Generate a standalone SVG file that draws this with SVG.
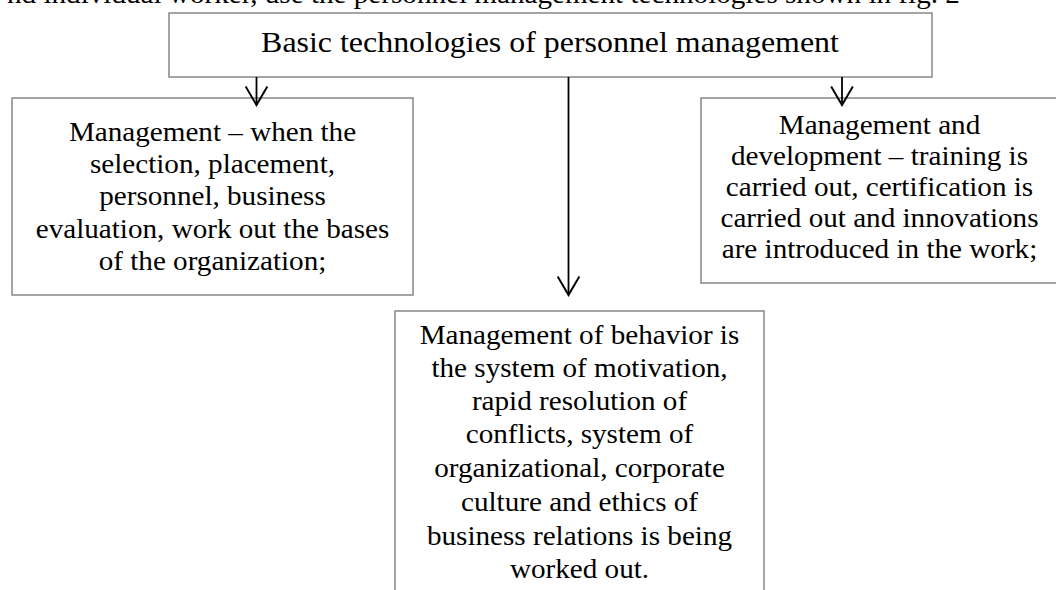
<svg xmlns="http://www.w3.org/2000/svg" width="1056" height="590" viewBox="0 0 1056 590">
<style>
.box{fill:#fff;stroke:#7f7f7f;stroke-width:1.4}
.t{font-family:"Liberation Serif","Times New Roman",serif;font-size:26.5px;fill:#000;text-anchor:middle}
.tt{font-family:"Liberation Serif","Times New Roman",serif;font-size:28.5px;fill:#000;text-anchor:middle}
.cap{font-family:"Liberation Serif","Times New Roman",serif;font-size:26.5px;fill:#000}
.ln{stroke:#000;stroke-width:1.8;fill:none}
</style>
<defs>
<marker id="arr" markerUnits="userSpaceOnUse" markerWidth="24" markerHeight="26" viewBox="-2 -2 22 24" refX="17" refY="10" orient="auto">
<path d="M0,0 L17,10 L0,20" fill="none" stroke="#000" stroke-width="1.8"/>
</marker>
</defs>
<rect width="1056" height="590" fill="#fff"/>
<g id="caption" transform="translate(7,0) scale(1.1,1)">
<text class="cap" x="0" y="3">nd individual worker, use the personnel management technologies shown in fig. 2</text>
</g>
<g id="node-top">
<rect class="box" x="169" y="13" width="763" height="64"/>
<g transform="translate(550,0) scale(1.12,1)">
<text class="tt" x="0" y="52">Basic technologies of personnel management</text>
</g>
</g>
<g id="node-left">
<rect class="box" x="12" y="98" width="401" height="197"/>
<g transform="translate(212.5,0) scale(1.1,1)">
<text class="t" x="0"><tspan x="0" y="141">Management – when the</tspan><tspan x="0" y="173">selection, placement,</tspan><tspan x="0" y="205">personnel, business</tspan><tspan x="0" y="238">evaluation, work out the bases</tspan><tspan x="0" y="270">of the organization;</tspan></text>
</g>
</g>
<g id="node-right">
<rect class="box" x="701" y="98" width="357" height="185"/>
<g transform="translate(879.5,0) scale(1.1,1)">
<text class="t" x="0"><tspan x="0" y="134">Management and</tspan><tspan x="0" y="165">development – training is</tspan><tspan x="0" y="196">carried out, certification is</tspan><tspan x="0" y="227">carried out and innovations</tspan><tspan x="0" y="258">are introduced in the work;</tspan></text>
</g>
</g>
<g id="node-bottom">
<rect class="box" x="395" y="311" width="369" height="300"/>
<g transform="translate(579.5,0) scale(1.1,1)">
<text class="t" x="0"><tspan x="0" y="344">Management of behavior is</tspan><tspan x="0" y="377">the system of motivation,</tspan><tspan x="0" y="410">rapid resolution of</tspan><tspan x="0" y="443">conflicts, system of</tspan><tspan x="0" y="477">organizational, corporate</tspan><tspan x="0" y="511">culture and ethics of</tspan><tspan x="0" y="545">business relations is being</tspan><tspan x="0" y="578">worked out.</tspan></text>
</g>
</g>
<g id="connectors">
<line class="ln" x1="256.5" y1="77" x2="256.5" y2="105" marker-end="url(#arr)"/>
<line class="ln" x1="568.5" y1="77" x2="568.5" y2="295" marker-end="url(#arr)"/>
<line class="ln" x1="842" y1="77" x2="842" y2="105" marker-end="url(#arr)"/>
</g>
</svg>
